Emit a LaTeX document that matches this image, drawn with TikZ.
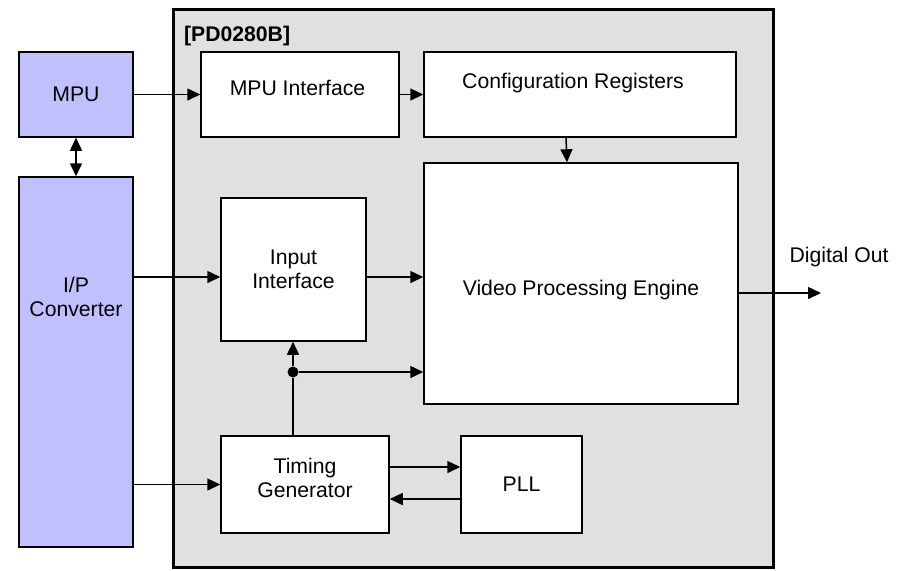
\documentclass[tikz,border=0pt]{standalone}
\usepackage{fontspec}
\setmainfont{Liberation Sans}
\usetikzlibrary{arrows.meta}
\definecolor{chipgray}{HTML}{E0E0E0}
\definecolor{hostblue}{HTML}{C0C0FF}
\tikzset{
  chip/.style = {rectangle, draw, line width=1.5pt, fill=chipgray, minimum width=300pt, minimum height=279pt},
  host/.style = {rectangle, draw, line width=0.75pt, fill=hostblue, minimum width=57pt, align=center},
  blk/.style  = {rectangle, draw, line width=0.75pt, fill=white, align=center},
  lbl/.style  = {align=center, inner sep=0pt},
  arr/.style  = {line width=0.75pt, -{Triangle[length=6.5pt,width=6pt]}},
  darr/.style = {line width=0.75pt, {Triangle[length=6.5pt,width=6pt]}-{Triangle[length=6.5pt,width=6pt]}},
  wire/.style = {line width=0.75pt},
  dot/.style  = {circle, fill=black, minimum size=5.5pt, inner sep=0pt}
}

\begin{document}
\begin{tikzpicture}[x=0.5pt, y=-0.5pt, font=\fontsize{10.6}{12.2}\selectfont]
  \useasboundingbox (0,0) rectangle (897,570);

  % chip
  \node[chip] (chip) at (473,288) {};
  \node[anchor=west, font=\fontsize{10.6}{12.2}\selectfont\bfseries] (chipname) at (177,36) {[PD0280B]};

  % external blocks
  \node[host, minimum height=42.5pt] (mpu) at (76,94.5) {MPU};
  \node[host, minimum height=185pt, label={[lbl, name=ipct, yshift=32.5pt]center:{I/P\\Converter}}] (ipc) at (76,362) {};

  % internal blocks
  \node[blk, minimum width=99pt, minimum height=42.5pt, label={[lbl, name=mift, xshift=-1.25pt, yshift=3.25pt]center:MPU Interface}] (mif) at (300,94.5) {};
  \node[blk, minimum width=156pt, minimum height=42.5pt, label={[lbl, name=cfgt, xshift=-3.5pt, yshift=5.75pt]center:Configuration Registers}] (cfg) at (580,94.5) {};
  \node[blk, minimum width=157pt, minimum height=120.5pt, label={[lbl, name=vpet, yshift=-3.25pt]center:Video Processing Engine}] (vpe) at (581,283.5) {};
  \node[blk, minimum width=72.5pt, minimum height=71.5pt] (iif) at (293.5,269.5) {Input\\Interface};
  \node[blk, minimum width=84pt, minimum height=48.5pt, label={[lbl, name=tgt, yshift=3.25pt]center:{Timing\\Generator}}] (tg) at (305,484.5) {};
  \node[blk, minimum width=60.5pt, minimum height=48.5pt] (pll) at (521.5,484.5) {PLL};

  % helper rows
  \coordinate (r1) at (0,277);
  \coordinate (r3) at (0,467);
  \coordinate (r4) at (0,499);
  \coordinate (out) at (821,293);
  \node[dot] (jn) at (293,372) {};

  % connections
  \draw[arr] (mpu) -- (mif);
  \draw[arr] (mif) -- (cfg);
  \draw[darr] (mpu) -- (ipc);
  \draw[arr] ([xshift=-7pt]cfg.south) -- ([xshift=-7pt]vpe.north);
  \draw[arr] (ipc.east |- r1) -- (iif.west |- r1);
  \draw[arr] (iif.east |- r1) -- (vpe.west |- r1);
  \draw[wire] (tg.north -| jn) -- (jn);
  \draw[arr] (jn) -- (iif.south -| jn);
  \draw[arr] (jn) -- (vpe.west |- jn);
  \draw[arr] (ipc.east |- tg.west) -- (tg.west);
  \draw[arr] (tg.east |- r3) -- (pll.west |- r3);
  \draw[arr] (pll.west |- r4) -- (tg.east |- r4);
  \draw[arr] (vpe.east |- out) -- (out);
  \node (dout) at (839,257) {Digital Out};

\end{tikzpicture}
\end{document}
